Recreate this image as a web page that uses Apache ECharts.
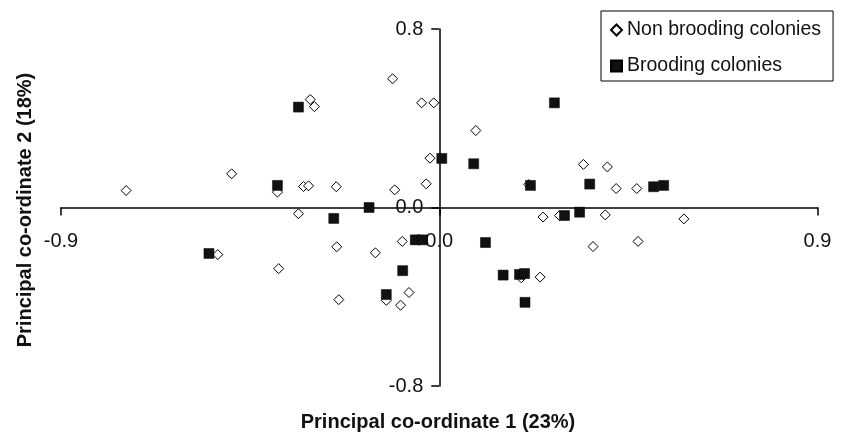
<!DOCTYPE html>
<html>
<head>
<meta charset="utf-8">
<script src="https://cdn.jsdelivr.net/npm/echarts@6/dist/echarts.min.js"></script>
<style>
  html, body { margin: 0; padding: 0; background: #fff; }
  #chart { width: 853px; height: 433px; }
</style>
</head>
<body>
<div id="chart"></div>
<script>
// principal co-ordinate 1 / 2 scores
const nonBrooding = [
  [-0.745, 0.076], [-0.494, 0.151], [-0.385, 0.069], [-0.527, -0.211],
  [-0.382, -0.274], [-0.335, -0.028], [-0.111, 0.577], [-0.307, 0.484],
  [-0.297, 0.452], [-0.042, 0.469], [-0.013, 0.469], [0.087, 0.345],
  [-0.022, 0.221], [-0.031, 0.106], [-0.323, 0.094], [-0.311, 0.097],
  [-0.245, 0.093], [-0.106, 0.079], [-0.088, -0.152], [-0.244, -0.176],
  [-0.152, -0.203], [-0.072, -0.381], [-0.126, -0.416], [-0.239, -0.413],
  [-0.092, -0.438], [0.343, 0.193], [0.400, 0.182], [0.213, 0.103],
  [0.421, 0.085], [0.470, 0.085], [0.247, -0.043], [0.286, -0.036],
  [0.395, -0.033], [0.582, -0.051], [0.366, -0.175], [0.473, -0.152],
  [0.195, -0.315], [0.240, -0.312]
];

const brooding = [
  [-0.385, 0.099], [-0.548, -0.206], [-0.335, 0.450], [0.006, 0.220],
  [0.082, 0.196], [-0.167, 0.0], [-0.251, -0.049], [-0.057, -0.145],
  [-0.040, -0.145], [-0.087, -0.283], [-0.126, -0.390], [0.274, 0.469],
  [0.217, 0.099], [0.358, 0.105], [0.510, 0.093], [0.534, 0.099],
  [0.298, -0.036], [0.334, -0.021], [0.110, -0.157], [0.152, -0.303],
  [0.191, -0.300], [0.203, -0.296], [0.204, -0.425]
];

const xTitle = "Principal co-ordinate 1 (23%)";
const yTitle = "Principal co-ordinate 2 (18%)";

const font = "Liberation Sans, Arial, sans-serif";
const chart = echarts.init(document.getElementById("chart"));

// the axes cross at zero, so shift them into the middle of the grid
const gridLeft = 61, gridRight = 35.5, gridTop = 29, gridBottom = 47;
const plotW = 853 - gridLeft - gridRight;
const plotH = 433 - gridTop - gridBottom;

const axisStyle = {
  axisLine: { onZero: false, lineStyle: { color: "#000", width: 1.5 } },
  axisTick: { show: true, inside: false, length: 8, lineStyle: { color: "#000", width: 1.5 } },
  splitLine: { show: false },
};

chart.setOption({
  animation: false,
  backgroundColor: "#fff",
  grid: { left: gridLeft, right: gridRight, top: gridTop, bottom: gridBottom },
  xAxis: {
    type: "value",
    min: -0.9,
    max: 0.9,
    interval: 0.9,
    position: "bottom",
    offset: -plotH / 2,
    ...axisStyle,
    axisLabel: {
      color: "#111",
      fontFamily: font,
      fontSize: 20,
      margin: 24,
      formatter: (v) => v.toFixed(1),
    },
  },
  yAxis: {
    type: "value",
    min: -0.8,
    max: 0.8,
    interval: 0.8,
    position: "left",
    offset: -plotW / 2,
    ...axisStyle,
    axisLabel: {
      color: "#111",
      fontFamily: font,
      fontSize: 20,
      margin: 16,
      padding: [3, 0, 0, 0],
      formatter: (v) => v.toFixed(1),
    },
  },
  legend: {
    orient: "vertical",
    left: 601,
    top: 11,
    padding: [9, 12, 5, 9],
    itemGap: 16,
    itemWidth: 11,
    itemHeight: 11,
    borderColor: "#000",
    borderWidth: 1,
    textStyle: { color: "#111", fontFamily: font, fontSize: 19.5 },
    data: ["Non brooding colonies", "Brooding colonies"],
  },
  graphic: [
    {
      type: "text",
      x: 438,
      y: 422,
      style: {
        text: xTitle,
        fill: "#111",
        font: "bold 20px " + font,
        textAlign: "center",
        textVerticalAlign: "middle",
      },
    },
    {
      type: "text",
      x: 25,
      y: 210,
      rotation: Math.PI / 2,
      style: {
        text: yTitle,
        fill: "#111",
        font: "bold 20px " + font,
        textAlign: "center",
        textVerticalAlign: "middle",
      },
    },
  ],
  series: [
    {
      name: "Non brooding colonies",
      type: "scatter",
      symbol: "diamond",
      symbolSize: 10,
      itemStyle: { color: "#fff", borderColor: "#000", borderWidth: 1, opacity: 1 },
      data: nonBrooding,
      z: 2,
    },
    {
      name: "Brooding colonies",
      type: "scatter",
      symbol: "rect",
      symbolSize: 10,
      itemStyle: { color: "#111", borderColor: "#000", borderWidth: 0.5, opacity: 1 },
      data: brooding,
      z: 3,
    },
  ],
});
</script>
</body>
</html>
